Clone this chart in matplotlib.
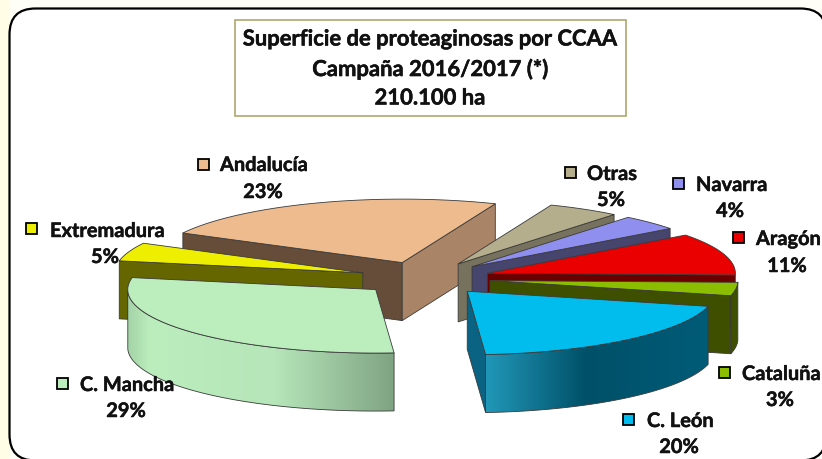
import numpy as np
import matplotlib
matplotlib.use("Agg")
import matplotlib.pyplot as plt
import matplotlib.patheffects as pe
from matplotlib.patches import Polygon, FancyBboxPatch, Rectangle
from matplotlib.colors import to_rgb

plt.rcParams['font.family'] = ['Lato', 'DejaVu Sans']

# ---- data, clockwise from the right-hand side of the pie ----
categories = ["Aragón", "Cataluña", "C. León", "C. Mancha", "Extremadura", "Andalucía", "Otras", "Navarra"]
shares = [10.7, 3.4, 20.0, 29.2, 4.7, 23.4, 4.7, 3.9]
title_lines = ["Superficie de proteaginosas por CCAA", "Campaña 2016/2017 (*)", "210.100 ha"]

# ---- styles ----
top_colors = ["#EB0000", "#8CBE00", "#00BDEE", "#BBEDBD", "#EEEE00", "#EDBB8D", "#B4AE8C", "#8F8FEF"]
start_wall = ["#6A0000", "#3F4F00", "#005A75", "#6E8E70", "#666600", "#654D3A", "#76725E", "#45456E"]
end_wall = ["#6A0000", "#3F4F00", "#0A6383", "#6E8E70", "#666600", "#A98466", "#76725E", "#45456E"]
arc_stops = {
    "C. León": [(0.0, "#2197B8"), (0.45, "#005068"), (1.0, "#005C78")],
    "C. Mancha": [(0.0, "#A3D3A6"), (0.08, "#BBEDBD"), (0.55, "#B6E6B9"), (1.0, "#7FA382")],
}
arc_plain = {"Cataluña": "#3F4F00"}
# layout in pixels: key centre, label left, label centre line, percent centre, percent line
layout = {
    "Andalucía": (203, 165, 220, 166, 263, 193),
    "Otras": (570, 173, 587, 175, 611, 201),
    "Navarra": (678, 184, 696, 186, 730, 212),
    "Aragón": (738, 238, 756, 240, 787, 267),
    "Extremadura": (31, 229, 50, 232, 105, 258),
    "C. Mancha": (62, 384, 80, 386, 126, 412),
    "Cataluña": (724, 373, 742, 375, 780, 401),
    "C. León": (628, 420, 647, 422, 679, 448),
}
draw_order = ["Andalucía", "Otras", "Navarra", "Aragón", "Extremadura", "Cataluña", "C. León", "C. Mancha"]
START, CX, CY, R, K, EXPLODE, DEPTH = 37.0, 424.8, 279.4, 248.0, 0.256, 65.7, 58.0
EDGE = "#3a3a3a"
THICK = [pe.withStroke(linewidth=0.35, foreground="#111111")]

fig = plt.figure(figsize=(8.22, 4.6), dpi=100, facecolor="#FFFEF6")
ax = fig.add_axes([0, 0, 1, 1])
ax.set_xlim(0, 822)
ax.set_ylim(460, 0)
ax.axis("off")
ax.set_autoscale_on(False)

ax.add_patch(Rectangle((0, 0), 9, 460, fc="#FFFDE6", ec="none", zorder=0))
ax.add_patch(FancyBboxPatch((9.5, 9.5), 817, 452, boxstyle="round,pad=0,rounding_size=26",
                            fc="white", ec="black", lw=1.6, zorder=1))
ax.add_patch(Rectangle((234.5, 20.5), 391, 96, fc="white", ec="#A89F62", lw=1.1, zorder=2))
for line, y in zip(title_lines, [40, 70, 99]):
    ax.text(430, y, line, ha="center", va="center", fontsize=15.85, fontweight="bold",
            color="#111111", zorder=3, path_effects=THICK)

angles = {}
a = START
for name, v in zip(categories, shares):
    angles[name] = (a, a - v * 3.6)
    a -= v * 3.6


def rim(apex, deg):
    t = np.radians(deg)
    return apex[0] + R * np.cos(t), apex[1] - R * K * np.sin(t)


z = 10
for name in draw_order:
    i = categories.index(name)
    a0, a1 = angles[name]
    mid = np.radians((a0 + a1) / 2)
    apex = (CX + EXPLODE * np.cos(mid), CY - EXPLODE * K * np.sin(mid))
    steps = np.linspace(a0, a1, 80)
    arc = [rim(apex, s) for s in steps]
    # radial walls that face the viewer
    walls = []
    if np.cos(np.radians(a0)) < 0:
        walls.append((arc[0], start_wall[i]))
    if np.cos(np.radians(a1)) > 0:
        walls.append((arc[-1], end_wall[i]))
    for edge_pt, col in walls:
        ax.add_patch(Polygon([apex, edge_pt, (edge_pt[0], edge_pt[1] + DEPTH), (apex[0], apex[1] + DEPTH)],
                             closed=True, fc=col, ec=EDGE, lw=0.6, zorder=z))
        z += 1
    # outer wall, front half only
    front = [s for s in steps if np.sin(np.radians(s)) <= 0]
    if front and (name in arc_stops or name in arc_plain):
        upper = [rim(apex, s) for s in front]
        lower = [(x, y + DEPTH) for x, y in upper]
        pts = upper + lower[::-1]
        if name in arc_plain:
            ax.add_patch(Polygon(pts, closed=True, fc=arc_plain[name], ec=EDGE, lw=0.6, zorder=z))
        else:
            xs = [p[0] for p in pts]
            ys = [p[1] for p in pts]
            u = np.linspace(0, 1, 256)
            stops = arc_stops[name]
            rgb = np.array([np.interp(u, [s[0] for s in stops], [to_rgb(s[1])[c] for s in stops])
                            for c in range(3)]).T[None, :, :]
            im = ax.imshow(rgb, extent=(min(xs), max(xs), max(ys), min(ys)), aspect="auto", zorder=z)
            poly = Polygon(pts, closed=True, fc="none", ec=EDGE, lw=0.6, zorder=z + 0.5)
            ax.add_patch(poly)
            im.set_clip_path(poly)
        z += 1
    ax.add_patch(Polygon([apex] + arc, closed=True, fc=top_colors[i], ec=EDGE, lw=0.6, zorder=z, joinstyle="round"))
    z += 1

for name, v, col in zip(categories, shares, top_colors):
    kx, ky, tx, ty, px, py = layout[name]
    ax.add_patch(Rectangle((kx - 5.5, ky - 5.5), 11, 11, fc=col, ec="black", lw=1.3, zorder=200))
    ax.text(tx, ty, name, ha="left", va="center", fontsize=14.4, fontweight="bold",
            color="#111111", zorder=201, path_effects=THICK)
    ax.text(px, py, f"{round(v)}%", ha="center", va="center", fontsize=14.4, fontweight="bold",
            color="#111111", zorder=201, path_effects=THICK)

ax.set_xlim(0, 822)
ax.set_ylim(460, 0)
fig.savefig("out.png", dpi=100, facecolor=fig.get_facecolor())
